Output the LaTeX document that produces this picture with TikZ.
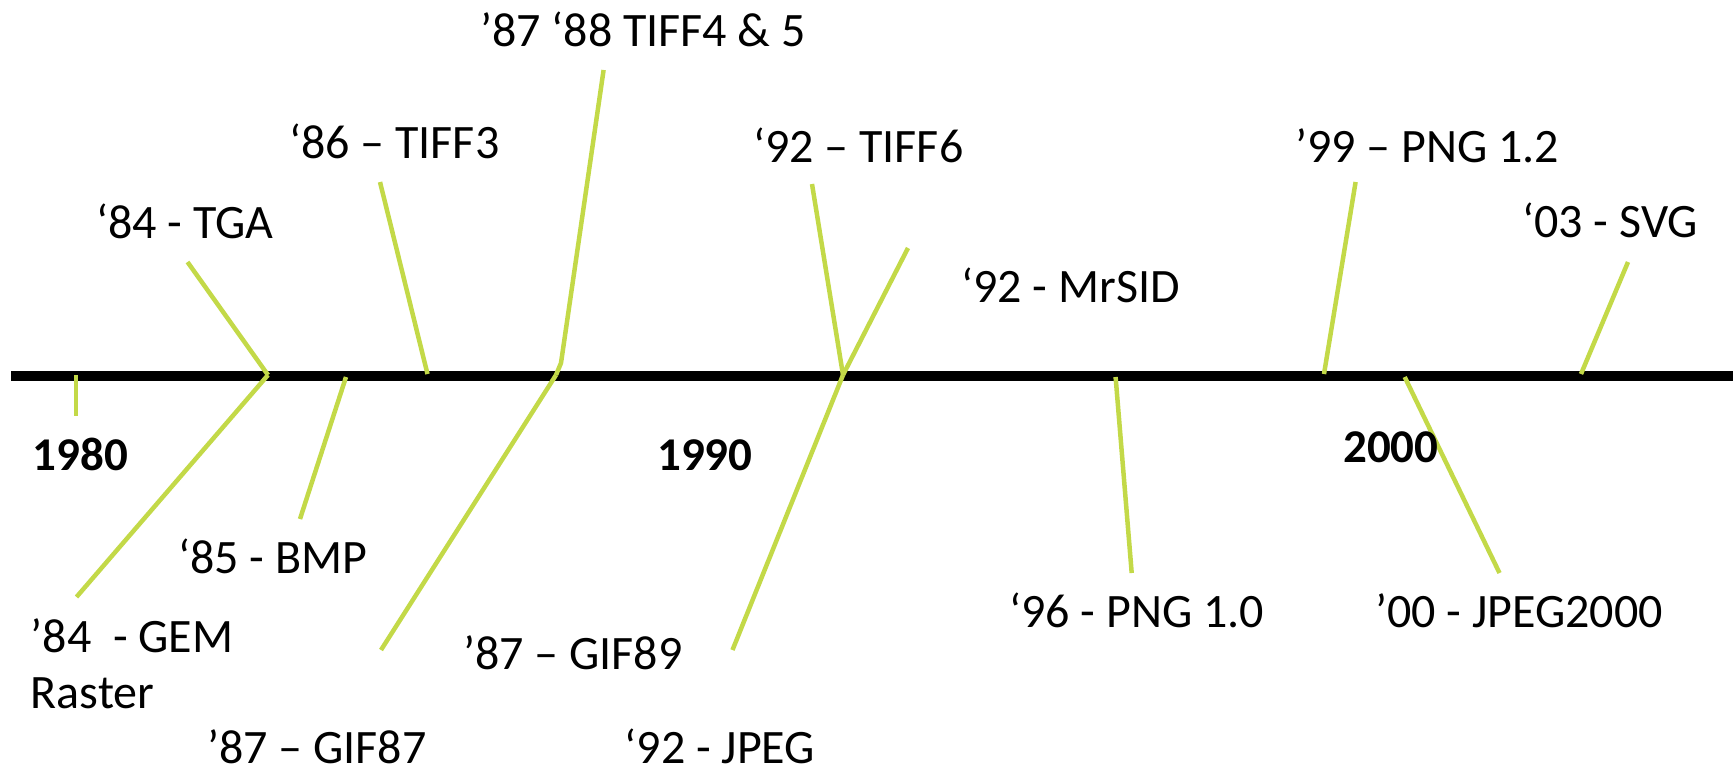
\documentclass[tikz,border=0pt]{standalone}
\usepackage{fontspec}
\setmainfont{Carlito}
\definecolor{lime}{RGB}{195,217,72}
\begin{document}
\begin{tikzpicture}[x=1pt,y=-1pt,
  lbl/.style={anchor=base west, inner sep=0pt, font=\fontsize{48}{58}\selectfont},
  yr/.style={anchor=base west, inner sep=0pt, font=\fontsize{47}{56}\selectfont\bfseries},
  link/.style={draw=lime, line width=4.5pt},
  axis/.style={draw=black, line width=10pt}]
\useasboundingbox (0,0) rectangle (1733,772);
% timeline
\coordinate (tl0) at (11,375.5);
\coordinate (tl1) at (1733,375.5);
\draw[axis] (tl0) -- (tl1);
% anchor points on the line
\coordinate (p80) at (76,375);
\coordinate (p84) at (268,375);
\coordinate (p85) at (346,377);
\coordinate (p86) at (427.5,374);
\coordinate (p87) at (556,375);
\coordinate (p92) at (843,375);
\coordinate (p96) at (1115.6,377);
\coordinate (p99) at (1324,374);
\coordinate (p00) at (1404.7,377);
\coordinate (p03) at (1581,374);
% free ends
\coordinate (e80) at (76,416);
\coordinate (eTGA) at (187.5,262);
\coordinate (eGEM) at (76.5,597);
\coordinate (eBMP) at (300,519);
\coordinate (eT3) at (380,182);
\coordinate (eT45) at (603.6,70);
\coordinate (bT45) at (561,363);
\coordinate (eG87) at (381,650);
\coordinate (eT6) at (812,184);
\coordinate (eMr) at (908,248);
\coordinate (eJP) at (732.5,650);
\coordinate (eP10) at (1131.7,573);
\coordinate (eP12) at (1355.6,182);
\coordinate (eJ2k) at (1499.5,573);
\coordinate (eSVG) at (1628,262);
% connectors
\draw[link] (p80) -- (e80);
\draw[link] (eTGA) -- (p84);
\draw[link] (p84) -- (eGEM);
\draw[link] (p85) -- (eBMP);
\draw[link] (eT3) -- (p86);
\draw[link] (eT45) -- (bT45) -- (p87);
\draw[link] (p87) -- (eG87);
\draw[link] (eT6) -- (p92);
\draw[link] (eMr) -- (p92);
\draw[link] (p92) -- (eJP);
\draw[link] (p96) -- (eP10);
\draw[link] (eP12) -- (p99);
\draw[link] (p00) -- (eJ2k);
\draw[link] (eSVG) -- (p03);
% labels
\node[lbl] (tga) at (96,238) {‘84 - TGA};
\node[lbl] (tiff3) at (289,158) {‘86 – TIFF3};
\node[lbl] (tiff45) at (480,46) {’87 ‘88 TIFF4 \& 5};
\node[lbl] (tiff6) at (753,162) {‘92 – TIFF6};
\node[lbl] (mrsid) at (961,302) {‘92 - MrSID};
\node[lbl] (png12) at (1295,162) {’99 – PNG 1.2};
\node[lbl] (svg) at (1522,237) {‘03 - SVG};
\node[yr] (y1980) at (32.5,470) {1980};
\node[yr] (y1990) at (657,470) {1990};
\node[yr] (y2000) at (1343,462) {2000};
\node[lbl] (bmp) at (178,573) {‘85 - BMP};
\node[lbl] (gem) at (30.6,652) {’84\ \ - GEM};
\node[lbl] (raster) at (30.6,708) {Raster};
\node[lbl] (gif87) at (207,763) {’87 – GIF87};
\node[lbl] (gif89) at (463,669) {’87 – GIF89};
\node[lbl] (jpeg) at (624.6,763) {‘92 - JPEG};
\node[lbl] (png10) at (1009,627) {‘96 - PNG 1.0};
\node[lbl] (j2k) at (1375,627) {’00 - JPEG2000};
\end{tikzpicture}
\end{document}
